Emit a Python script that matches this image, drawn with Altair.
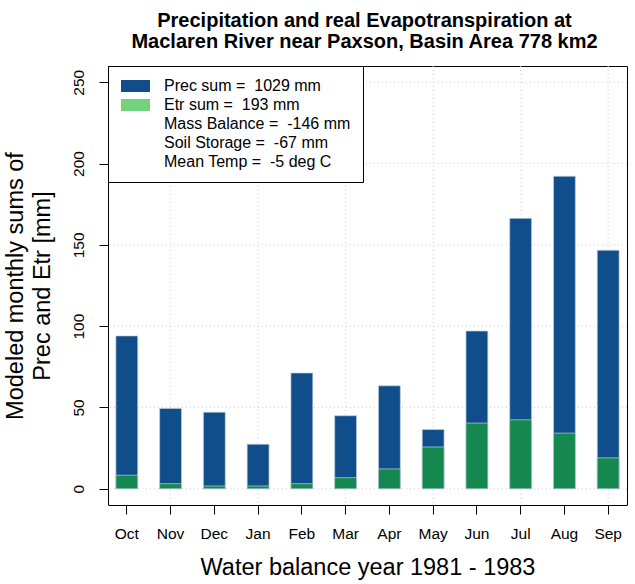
import altair as alt
import pandas as pd

months = ["Oct", "Nov", "Dec", "Jan", "Feb", "Mar", "Apr", "May", "Jun", "Jul", "Aug", "Sep"]
prec = [94, 49.4, 47.1, 27.4, 71.2, 44.9, 63.3, 36.4, 97, 166.3, 192.2, 146.7]
etr = [8.3, 3.1, 1.7, 1.7, 3.1, 6.8, 12.2, 25.7, 40.4, 42.4, 34.2, 19.0]
grid_months = ["Nov", "Jan", "Mar", "May", "Jul", "Sep"]
y_ticks = [0, 50, 100, 150, 200, 250]
legend_labels = [
    "Prec sum = \u00a01029 mm",
    "Etr sum = \u00a0193 mm",
    "Mass Balance = \u00a0-146 mm",
    "Soil Storage = \u00a0-67 mm",
    "Mean Temp = \u00a0-5 deg C",
]
legend_colors = ["#0F4E8A", "#74D27E", "transparent", "transparent", "transparent"]

BLUE = "#0F4E8A"
GREEN = "#15884F"
FONT = "Liberation Sans"

df = pd.DataFrame({"month": months, "prec": prec, "etr": etr})
grid_x = pd.DataFrame({"month": grid_months})
grid_y = pd.DataFrame({"v": y_ticks})
leg = pd.DataFrame({"label": legend_labels, "month": ["Oct"] * 5, "z": [0] * 5})

x_scale = alt.Scale(domain=months, paddingInner=0.5, paddingOuter=0.18)
y_scale = alt.Scale(domain=[-10, 260], nice=False, zero=False)

x_axis = alt.Axis(
    title="Water balance year 1981 - 1983",
    labelAngle=0,
    labelFont=FONT,
    labelFontSize=15.5,
    labelColor="black",
    labelPadding=12,
    tickSize=9,
    tickColor="black",
    domain=False,
    grid=False,
    titleFont=FONT,
    titleFontSize=23.5,
    titleFontWeight="normal",
    titleColor="black",
    titlePadding=14,
)
y_axis = alt.Axis(
    title=["Modeled monthly sums of", "Prec and Etr [mm]"],
    values=y_ticks,
    labelAngle=270,
    labelAlign="center",
    labelBaseline="bottom",
    labelFont=FONT,
    labelFontSize=15.5,
    labelColor="black",
    labelPadding=13,
    tickSize=9,
    tickColor="black",
    domain=False,
    grid=False,
    titleFont=FONT,
    titleFontSize=23.5,
    titleFontWeight="normal",
    titleColor="black",
    titleLineHeight=27,
    titlePadding=17,
)

vgrid = alt.Chart(grid_x).mark_rule(color="#CFCFCF", strokeDash=[1, 3], strokeWidth=1).encode(
    x=alt.X("month:N", scale=x_scale, sort=months, axis=x_axis)
)
hgrid = alt.Chart(grid_y).mark_rule(color="#CFCFCF", strokeDash=[1, 3], strokeWidth=1).encode(
    y=alt.Y("v:Q", scale=y_scale, axis=y_axis)
)

prec_bars = alt.Chart(df).mark_bar(color=BLUE, stroke="#C4D0DF", strokeWidth=0.7).encode(
    x=alt.X("month:N", scale=x_scale, sort=months, axis=x_axis),
    y=alt.Y("prec:Q", scale=y_scale, axis=y_axis),
    y2=alt.Y2(datum=0),
)
etr_bars = alt.Chart(df).mark_bar(color=GREEN, stroke="#C4D0DF", strokeWidth=0.7).encode(
    x=alt.X("month:N", scale=x_scale, sort=months, axis=x_axis),
    y=alt.Y("etr:Q", scale=y_scale, axis=y_axis),
    y2=alt.Y2(datum=0),
)

legend_layer = alt.Chart(leg).mark_bar(strokeWidth=0).encode(
    x=alt.X("month:N", scale=x_scale, sort=months, axis=x_axis),
    y=alt.Y("z:Q", scale=y_scale, axis=y_axis),
    y2=alt.Y2("z:Q"),
    fill=alt.Fill(
        "label:N",
        scale=alt.Scale(domain=legend_labels, range=legend_colors),
        legend=alt.Legend(
            title=None,
            orient="top-left",
            offset=0,
            padding=12,
            strokeColor="black",
            fillColor="white",
            symbolType="M-1.167,-1H3.667V1H-1.167Z",
            symbolSize=144,
            symbolStrokeWidth=0,
            labelFont=FONT,
            labelFontSize=16,
            labelColor="black",
            labelOffset=28,
            labelLimit=400,
            rowPadding=3,
            cornerRadius=0,
        ),
    ),
)

chart = (
    alt.layer(vgrid, hgrid, prec_bars, etr_bars, legend_layer)
    .properties(
        width=519,
        height=439,
        autosize=alt.AutoSizeParams(type="none"),
        padding={"left": 108, "top": 66, "right": 8, "bottom": 79},
        title=alt.TitleParams(
            text=["Precipitation and real Evapotranspiration at", "Maclaren River near Paxson, Basin Area 778 km2"],
            font=FONT,
            fontSize=20,
            fontWeight="bold",
            color="black",
            lineHeight=21,
            anchor="middle",
            frame="group",
            offset=14,
            dx=-3,
        ),
        background="white",
    )
    .configure_view(stroke="black", strokeWidth=1)
)

chart.save("out.html", embed_options={"renderer": "svg", "actions": False})
